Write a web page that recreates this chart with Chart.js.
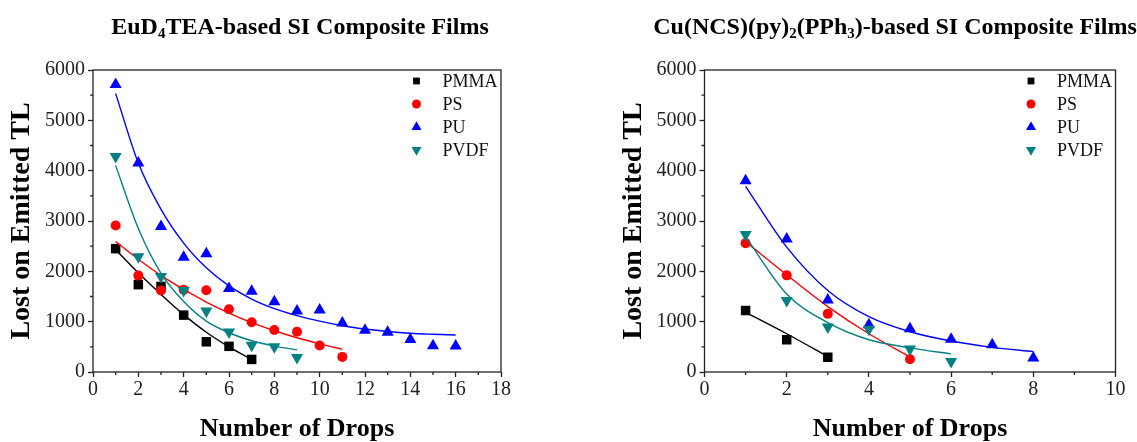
<!DOCTYPE html>
<html>
<head>
<meta charset="utf-8">
<script src="https://cdn.jsdelivr.net/npm/chart.js@4.4.1/dist/chart.umd.min.js"></script>
<style>
  body { margin: 0; background: #fff; }
  #wrap { position: relative; width: 1137px; height: 442px; overflow: hidden; }
  .box { position: absolute; top: 0; height: 442px; }
  .ttl { position: absolute; top: 13px; transform: translateX(-50%); font: bold 24px "Liberation Serif", serif; white-space: nowrap; color: #000; }
  .ttl sub { font-size: 0.62em; vertical-align: -0.3em; line-height: 0; }
</style>
</head>
<body>
<div id="wrap">
  <div class="box" style="left:0;width:568px"><canvas id="c1" width="568" height="442"></canvas></div>
  <div class="box" style="left:568px;width:569px"><canvas id="c2" width="569" height="442"></canvas></div>
  <div class="ttl" style="left:300px">EuD<sub>4</sub>TEA-based SI Composite Films</div>
  <div class="ttl" style="left:895px">Cu(NCS)(py)<sub>2</sub>(PPh<sub>3</sub>)-based SI Composite Films</div>
</div>
<script>
const serif = '"Liberation Serif", "Times New Roman", serif'
const seriesNames = ['PMMA', 'PS', 'PU', 'PVDF']

// EuD4TEA films (left)
const euPmmaDrops = [1, 2, 3, 4, 5, 6, 7]
const euPmma      = [2450, 1735, 1700, 1130, 600, 510, 250]
const euPmmaFit   = [2430, 1970, 1540, 1140, 790, 500, 250]
const euPsDrops = [1, 2, 3, 4, 5, 6, 7, 8, 9, 10, 11]
const euPs      = [2910, 1915, 1620, 1635, 1625, 1245, 990, 835, 800, 525, 300]
const euPsFit   = [2590, 2240, 1920, 1640, 1390, 1170, 980, 820, 680, 560, 450]
const euPuDrops = [1, 2, 3, 4, 5, 6, 7, 8, 9, 10, 11, 12, 13, 14, 15, 16]
const euPu      = [5710, 4150, 2890, 2280, 2350, 1660, 1605, 1395, 1210, 1230, 975, 830, 790, 645, 520, 515]
const euPuFit   = [5530, 4150, 3230, 2560, 2070, 1710, 1450, 1260, 1120, 1010, 920, 855, 805, 770, 750, 735]
const euPvdfDrops = [1, 2, 3, 4, 5, 6, 7, 8, 9]
const euPvdf      = [4280, 2290, 1895, 1620, 1210, 795, 530, 500, 290]
const euPvdfFit   = [4100, 2850, 1960, 1400, 1010, 780, 620, 515, 440]

// Cu(NCS)(py)2(PPh3) films (right)
const cuPmmaDrops = [1, 2, 3]
const cuPmma      = [1220, 640, 295]
const cuPmmaFit   = [1185, 760, 305]
const cuPsDrops    = [1, 2, 3, 5]
const cuPs         = [2560, 1920, 1155, 255]
const cuPsFitDrops = [1, 2, 3, 4, 5]
const cuPsFit      = [2590, 1930, 1300, 760, 300]
const cuPuDrops = [1, 2, 3, 4, 5, 6, 7, 8]
const cuPu      = [3800, 2640, 1430, 940, 860, 650, 540, 280]
const cuPuFit   = [3690, 2480, 1620, 1100, 800, 615, 490, 404]
const cuPvdfDrops = [1, 2, 3, 4, 5, 6]
const cuPvdf      = [2730, 1420, 895, 850, 455, 210]
const cuPvdfFit   = [2690, 1550, 980, 640, 480, 360]

const yTicks = [0, 1000, 2000, 3000, 4000, 5000, 6000]

// styles
const colors = ['#000000', '#ff0000', '#0000ff', '#008080']
const marks = ['rect', 'circle', 'triangle', 'triangle']
const turns = [0, 0, 0, 180]
const markSize = [6.7, 5, 7, 7]
const keySize = [4.8, 4.5, 5.8, 5.8]
const keyRows = [11, 34, 57, 80]

function pts(xs, ys) {
  return xs.map((x, k) => ({x: x, y: ys[k]}))
}

function makeDatasets(groups) {
  let ds = []
  groups.forEach((g, i) => {
    ds.push({
      label: seriesNames[i],
      data: pts(g.drops, g.vals),
      showLine: false,
      pointStyle: marks[i],
      pointRotation: turns[i],
      pointRadius: markSize[i],
      pointBorderWidth: 0,
      backgroundColor: colors[i],
      borderColor: colors[i],
      order: 10 - 2 * i
    })
    ds.push({
      label: seriesNames[i] + ' fit',
      data: pts(g.fitDrops || g.drops, g.fit),
      showLine: true,
      pointRadius: 0,
      borderColor: colors[i],
      borderWidth: 1.4,
      cubicInterpolationMode: 'monotone',
      order: 11 - 2 * i
    })
  })
  return ds
}

const decor = {
  id: 'decor',
  afterDraw(chart) {
    const {ctx, chartArea: a, scales} = chart
    ctx.save()
    ctx.strokeStyle = '#222'
    ctx.lineWidth = 1.3
    ctx.strokeRect(a.left, a.top, a.right - a.left, a.bottom - a.top)
    ctx.beginPath()
    for (let v = 1; v < scales.x.max; v += 2) {
      const px = scales.x.getPixelForValue(v)
      ctx.moveTo(px, a.bottom); ctx.lineTo(px, a.bottom + 3)
    }
    for (let v = 500; v < 6000; v += 1000) {
      const py = scales.y.getPixelForValue(v)
      ctx.moveTo(a.left, py); ctx.lineTo(a.left - 3, py)
    }
    ctx.stroke()
    // legend inside the frame, top right
    ctx.font = '18px ' + serif
    ctx.textBaseline = 'middle'
    seriesNames.forEach((name, i) => {
      const y = a.top + keyRows[i]
      ctx.fillStyle = colors[i]
      Chart.helpers.drawPoint(ctx, {pointStyle: marks[i], rotation: turns[i], radius: keySize[i], borderWidth: 0}, a.right - 84.5, y)
      ctx.fillStyle = '#111'
      ctx.fillText(name, a.right - 58.5, y + 1)
    })
    ctx.restore()
  }
}

function drawChart(id, groups, xMax, pad) {
  return new Chart(document.getElementById(id), {
    type: 'scatter',
    data: {datasets: makeDatasets(groups)},
    options: {
      responsive: false,
      animation: false,
      layout: {padding: pad},
      plugins: {legend: {display: false}, tooltip: {enabled: false}},
      scales: {
        x: {
          type: 'linear', min: 0, max: xMax,
          ticks: {stepSize: 2, color: '#222', padding: 1, maxRotation: 0, font: {family: serif, size: 20},
                  callback: v => String(v)},
          grid: {drawOnChartArea: false, tickLength: 5, tickColor: '#222', tickWidth: 1.3},
          border: {display: false},
          title: {display: true, text: 'Number of Drops', color: '#000', padding: {top: 0, bottom: 0},
                  font: {family: serif, size: 26, weight: 'bold', lineHeight: 1}},
          afterFit: s => { s.height = 70 }
        },
        y: {
          type: 'linear', min: 0, max: 6000,
          afterBuildTicks: s => { s.ticks = yTicks.map(v => ({value: v})) },
          ticks: {color: '#222', padding: 3, font: {family: serif, size: 20}, callback: v => String(v)},
          grid: {drawOnChartArea: false, tickLength: 5, tickColor: '#222', tickWidth: 1.3},
          border: {display: false},
          title: {display: true, text: 'Lost on Emitted TL', color: '#000', padding: {top: 8, bottom: 0},
                  font: {family: serif, size: 28, weight: 'bold', lineHeight: 1}},
          afterFit: s => { s.width = 93 }
        }
      }
    },
    plugins: [decor]
  })
}

drawChart('c1', [
  {drops: euPmmaDrops, vals: euPmma, fit: euPmmaFit},
  {drops: euPsDrops, vals: euPs, fit: euPsFit},
  {drops: euPuDrops, vals: euPu, fit: euPuFit},
  {drops: euPvdfDrops, vals: euPvdf, fit: euPvdfFit}
], 18, {left: 0, right: 67, top: 70, bottom: 0})

drawChart('c2', [
  {drops: cuPmmaDrops, vals: cuPmma, fit: cuPmmaFit},
  {drops: cuPsDrops, vals: cuPs, fitDrops: cuPsFitDrops, fit: cuPsFit},
  {drops: cuPuDrops, vals: cuPu, fit: cuPuFit},
  {drops: cuPvdfDrops, vals: cuPvdf, fit: cuPvdfFit}
], 10, {left: 43.5, right: 21.5, top: 70, bottom: 0})
</script>
</body>
</html>
